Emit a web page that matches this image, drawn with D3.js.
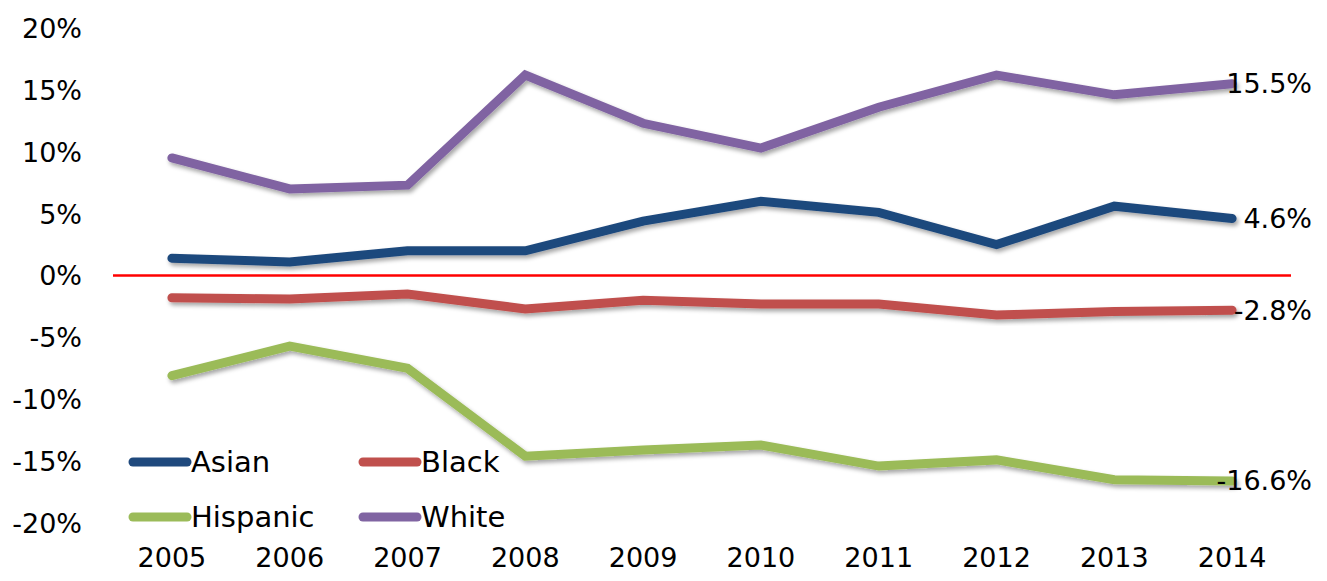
<!DOCTYPE html>
<html>
<head>
<meta charset="utf-8">
<script src="https://cdn.jsdelivr.net/npm/d3@7"></script>
<style>
  body { margin: 0; background: #fff; }
  text { font-family: "DejaVu Sans", sans-serif; fill: #000; }
</style>
</head>
<body>
<div id="chart"></div>
<script>
// data (percent)
var years = ["2005","2006","2007","2008","2009","2010","2011","2012","2013","2014"];
var asian    = [1.4, 1.1, 2.0, 2.0, 4.4, 6.0, 5.1, 2.5, 5.6, 4.6];
var black    = [-1.8, -1.9, -1.5, -2.7, -2.0, -2.3, -2.3, -3.2, -2.9, -2.8];
var hispanic = [-8.1, -5.7, -7.5, -14.6, -14.1, -13.7, -15.4, -14.9, -16.5, -16.6];
var white    = [9.5, 7.0, 7.3, 16.2, 12.3, 10.3, 13.6, 16.2, 14.6, 15.5];
var yTicks = [-20, -15, -10, -5, 0, 5, 10, 15, 20];

var seriesNames = ["Asian", "Black", "Hispanic", "White"];
var seriesValues = [asian, black, hispanic, white];
var colors = ["#1F497D", "#C0504D", "#9BBB59", "#8064A2"];

var W = 1327, H = 581;
var svg = d3.select("#chart").append("svg")
  .attr("width", W).attr("height", H);

// drop shadow like the original
var defs = svg.append("defs");
var f = defs.append("filter").attr("id", "shadow")
  .attr("x", "-5%").attr("y", "-50%").attr("width", "110%").attr("height", "200%");
f.append("feDropShadow")
  .attr("dx", 2).attr("dy", 3).attr("stdDeviation", 2)
  .attr("flood-color", "#000").attr("flood-opacity", 0.35);

var x = d3.scaleBand().domain(years).range([113, 1291]);
var y = d3.scaleLinear().domain([-20, 20]).range([523, 28]);

// y axis labels
var yAxis = svg.append("g")
  .attr("transform", "translate(82,0)")
  .call(d3.axisLeft(y).tickValues(yTicks).tickSize(0).tickPadding(0)
    .tickFormat(function(d){ return d + "%"; }));
yAxis.select(".domain").remove();
yAxis.selectAll("text").style("font-size", "27px").attr("dy", "0.35em")
  .style("font-family", "DejaVu Sans, sans-serif");

// x axis labels
var xAxis = svg.append("g")
  .attr("transform", "translate(0,547)")
  .call(d3.axisBottom(x).tickSize(0).tickPadding(0));
xAxis.select(".domain").remove();
xAxis.selectAll("text").style("font-size", "27px").attr("dy", "0.75em")
  .style("font-family", "DejaVu Sans, sans-serif");

// zero line
svg.append("line")
  .attr("x1", x.range()[0]).attr("x2", x.range()[1])
  .attr("y1", y(0)).attr("y2", y(0))
  .attr("stroke", "#FF0000").attr("stroke-width", 2.5);

var line = d3.line()
  .x(function(d, i){ return x(years[i]) + x.bandwidth() / 2; })
  .y(function(d){ return y(d); });

svg.selectAll("path.series")
  .data(seriesValues)
  .enter()
  .append("path")
    .attr("class", "series")
    .attr("d", function(d){ return line(d); })
    .attr("stroke", function(d, i){ return colors[i]; })
    .attr("stroke-width", 9)
    .attr("stroke-linecap", "round")
    .attr("stroke-linejoin", "miter")
    .attr("fill", "none")
    .attr("filter", "url(#shadow)");

// end labels
svg.selectAll("text.endlabel")
  .data(seriesValues)
  .enter()
  .append("text")
    .attr("class", "endlabel")
    .attr("x", 1312)
    .attr("y", function(d){ return y(d[d.length - 1]); })
    .attr("dy", "0.35em")
    .attr("text-anchor", "end")
    .style("font-size", "27px")
    .text(function(d){ return d[d.length - 1].toFixed(1) + "%"; });

// legend
var legend = svg.selectAll("g.legend")
  .data(seriesNames)
  .enter()
  .append("g")
    .attr("class", "legend")
    .attr("transform", function(d, i){
      return "translate(" + (133 + (i % 2) * 230) + "," + (462 + Math.floor(i / 2) * 55) + ")";
    });
legend.append("line")
  .attr("x1", 0).attr("x2", 54)
  .attr("stroke", function(d, i){ return colors[i]; })
  .attr("stroke-width", 9)
  .attr("stroke-linecap", "round");
legend.append("text")
  .attr("x", 58).attr("dy", "0.35em")
  .style("font-size", "29px")
  .text(function(d){ return d; });
</script>
</body>
</html>
